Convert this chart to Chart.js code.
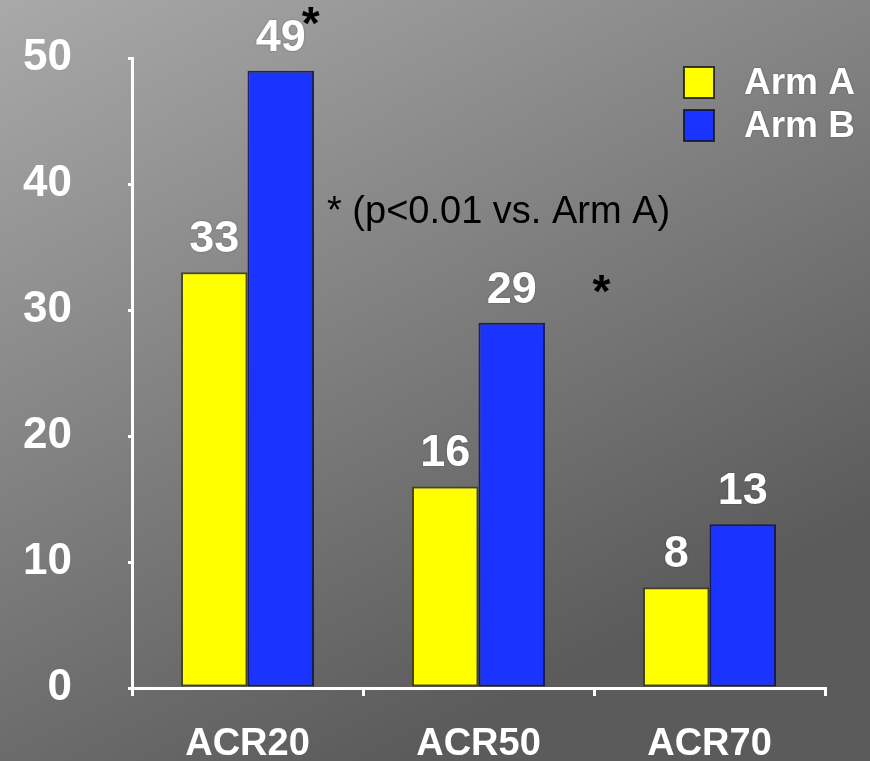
<!DOCTYPE html>
<html>
<head>
<meta charset="utf-8">
<script src="https://cdn.jsdelivr.net/npm/chart.js@4"></script>
<style>
  body{margin:0;padding:0;overflow:hidden;}
  #wrap{width:870px;height:761px;}
</style>
</head>
<body>
<div id="wrap"><canvas id="myChart" width="870" height="761"></canvas></div>
<script>
let categories = ["ACR20", "ACR50", "ACR70"];
let armA = [33, 16, 8];
let armB = [49, 29, 13];
let seriesNames = ["Arm A", "Arm B"];
let yTicks = [0, 10, 20, 30, 40, 50];
let noteText = "* (p<0.01 vs. Arm A)";

const FONT = "'Liberation Sans', Arial, sans-serif";

// grey gradient behind everything
const bgPlugin = {
  id: 'bg',
  beforeDraw(chart){
    const c = chart.ctx;
    let g = c.createLinearGradient(0, 0, chart.width*0.45, chart.height);
    g.addColorStop(0, '#a9a9a9');
    g.addColorStop(1, '#5b5b5b');
    c.save();
    c.fillStyle = g;
    c.fillRect(0, 0, chart.width, chart.height);
    c.restore();
  }
};

// numbers over bars, legend, note and asterisks
const labelPlugin = {
  id: 'labels',
  afterDatasetsDraw(chart){
    const c = chart.ctx;
    const x = chart.scales.x, y = chart.scales.y;
    c.save();
    c.shadowColor = 'rgba(0,0,0,0.35)';
    c.shadowBlur = 2;
    c.fillStyle = '#ffffff';
    c.font = "bold 45px " + FONT;
    c.textAlign = 'center';
    c.textBaseline = 'alphabetic';
    chart.data.datasets.forEach((ds, i) => {
      chart.getDatasetMeta(i).data.forEach((bar, j) => {
        c.fillText(ds.data[j], bar.x, bar.y - 20);
      });
    });

    // legend
    c.font = "bold 37px " + FONT;
    c.textAlign = 'left';
    c.textBaseline = 'middle';
    chart.data.datasets.forEach((ds, i) => {
      let top = 67 + i*43;
      c.shadowColor = 'rgba(0,0,0,0)';
      c.fillStyle = ds.backgroundColor;
      c.fillRect(684, top, 30, 31);
      c.strokeStyle = 'rgba(20,20,20,0.8)';
      c.lineWidth = 2;
      c.strokeRect(684, top, 30, 31);
      c.shadowColor = 'rgba(0,0,0,0.35)';
      c.fillStyle = '#ffffff';
      c.fillText(ds.label, 744, top + 17);
    });

    // significance marks
    c.shadowColor = 'rgba(0,0,0,0)';
    c.fillStyle = '#000000';
    c.font = "38px " + FONT;
    c.textAlign = 'left';
    c.fillText(noteText, 327, 213);
    c.font = "bold 46px " + FONT;
    let b0 = chart.getDatasetMeta(1).data[0];
    c.fillText('*', b0.x + 21, y.getPixelForValue(armB[0]) - 44);
    c.fillText('*', x.getPixelForValue(1) + 114, y.getPixelForValue(armB[1]) - 28);
    c.restore();
  }
};

new Chart(document.getElementById('myChart'), {
  type: 'bar',
  data: {
    labels: categories,
    datasets: [{
      label: seriesNames[0],
      data: armA,
      backgroundColor: '#ffff00',
      borderColor: 'rgba(60,60,20,0.85)',
      borderWidth: 2,
      borderSkipped: false,
      categoryPercentage: 0.576,
      barPercentage: 1
    }, {
      label: seriesNames[1],
      data: armB,
      backgroundColor: '#1a33ff',
      borderColor: 'rgba(15,20,90,0.9)',
      borderWidth: 2,
      borderSkipped: false,
      categoryPercentage: 0.576,
      barPercentage: 1
    }]
  },
  options: {
    responsive: false,
    animation: false,
    layout: { padding: { top: 57, right: 45, bottom: 0, left: 0 } },
    plugins: {
      legend: { display: false },
      tooltip: { enabled: false }
    },
    scales: {
      x: {
        grid: { drawOnChartArea: false, drawTicks: true, tickLength: 8, color: '#ffffff', lineWidth: 3 },
        border: { color: '#ffffff', width: 3 },
        ticks: { color: '#ffffff', font: { family: FONT, size: 38, weight: 'bold' }, padding: 26 },
        afterFit(s){ s.height = 73; }
      },
      y: {
        min: 0,
        max: 50,
        afterBuildTicks(s){ s.ticks = yTicks.map(v => ({ value: v })); },
        grid: { drawOnChartArea: false, drawTicks: true, tickLength: 4, color: '#ffffff', lineWidth: 3 },
        border: { color: '#ffffff', width: 3 },
        ticks: { color: '#ffffff', font: { family: FONT, size: 44, weight: 'bold', lineHeight: 0.1 }, padding: 56 },
        afterFit(s){ s.width = 132; }
      }
    }
  },
  plugins: [bgPlugin, labelPlugin]
});
</script>
</body>
</html>
